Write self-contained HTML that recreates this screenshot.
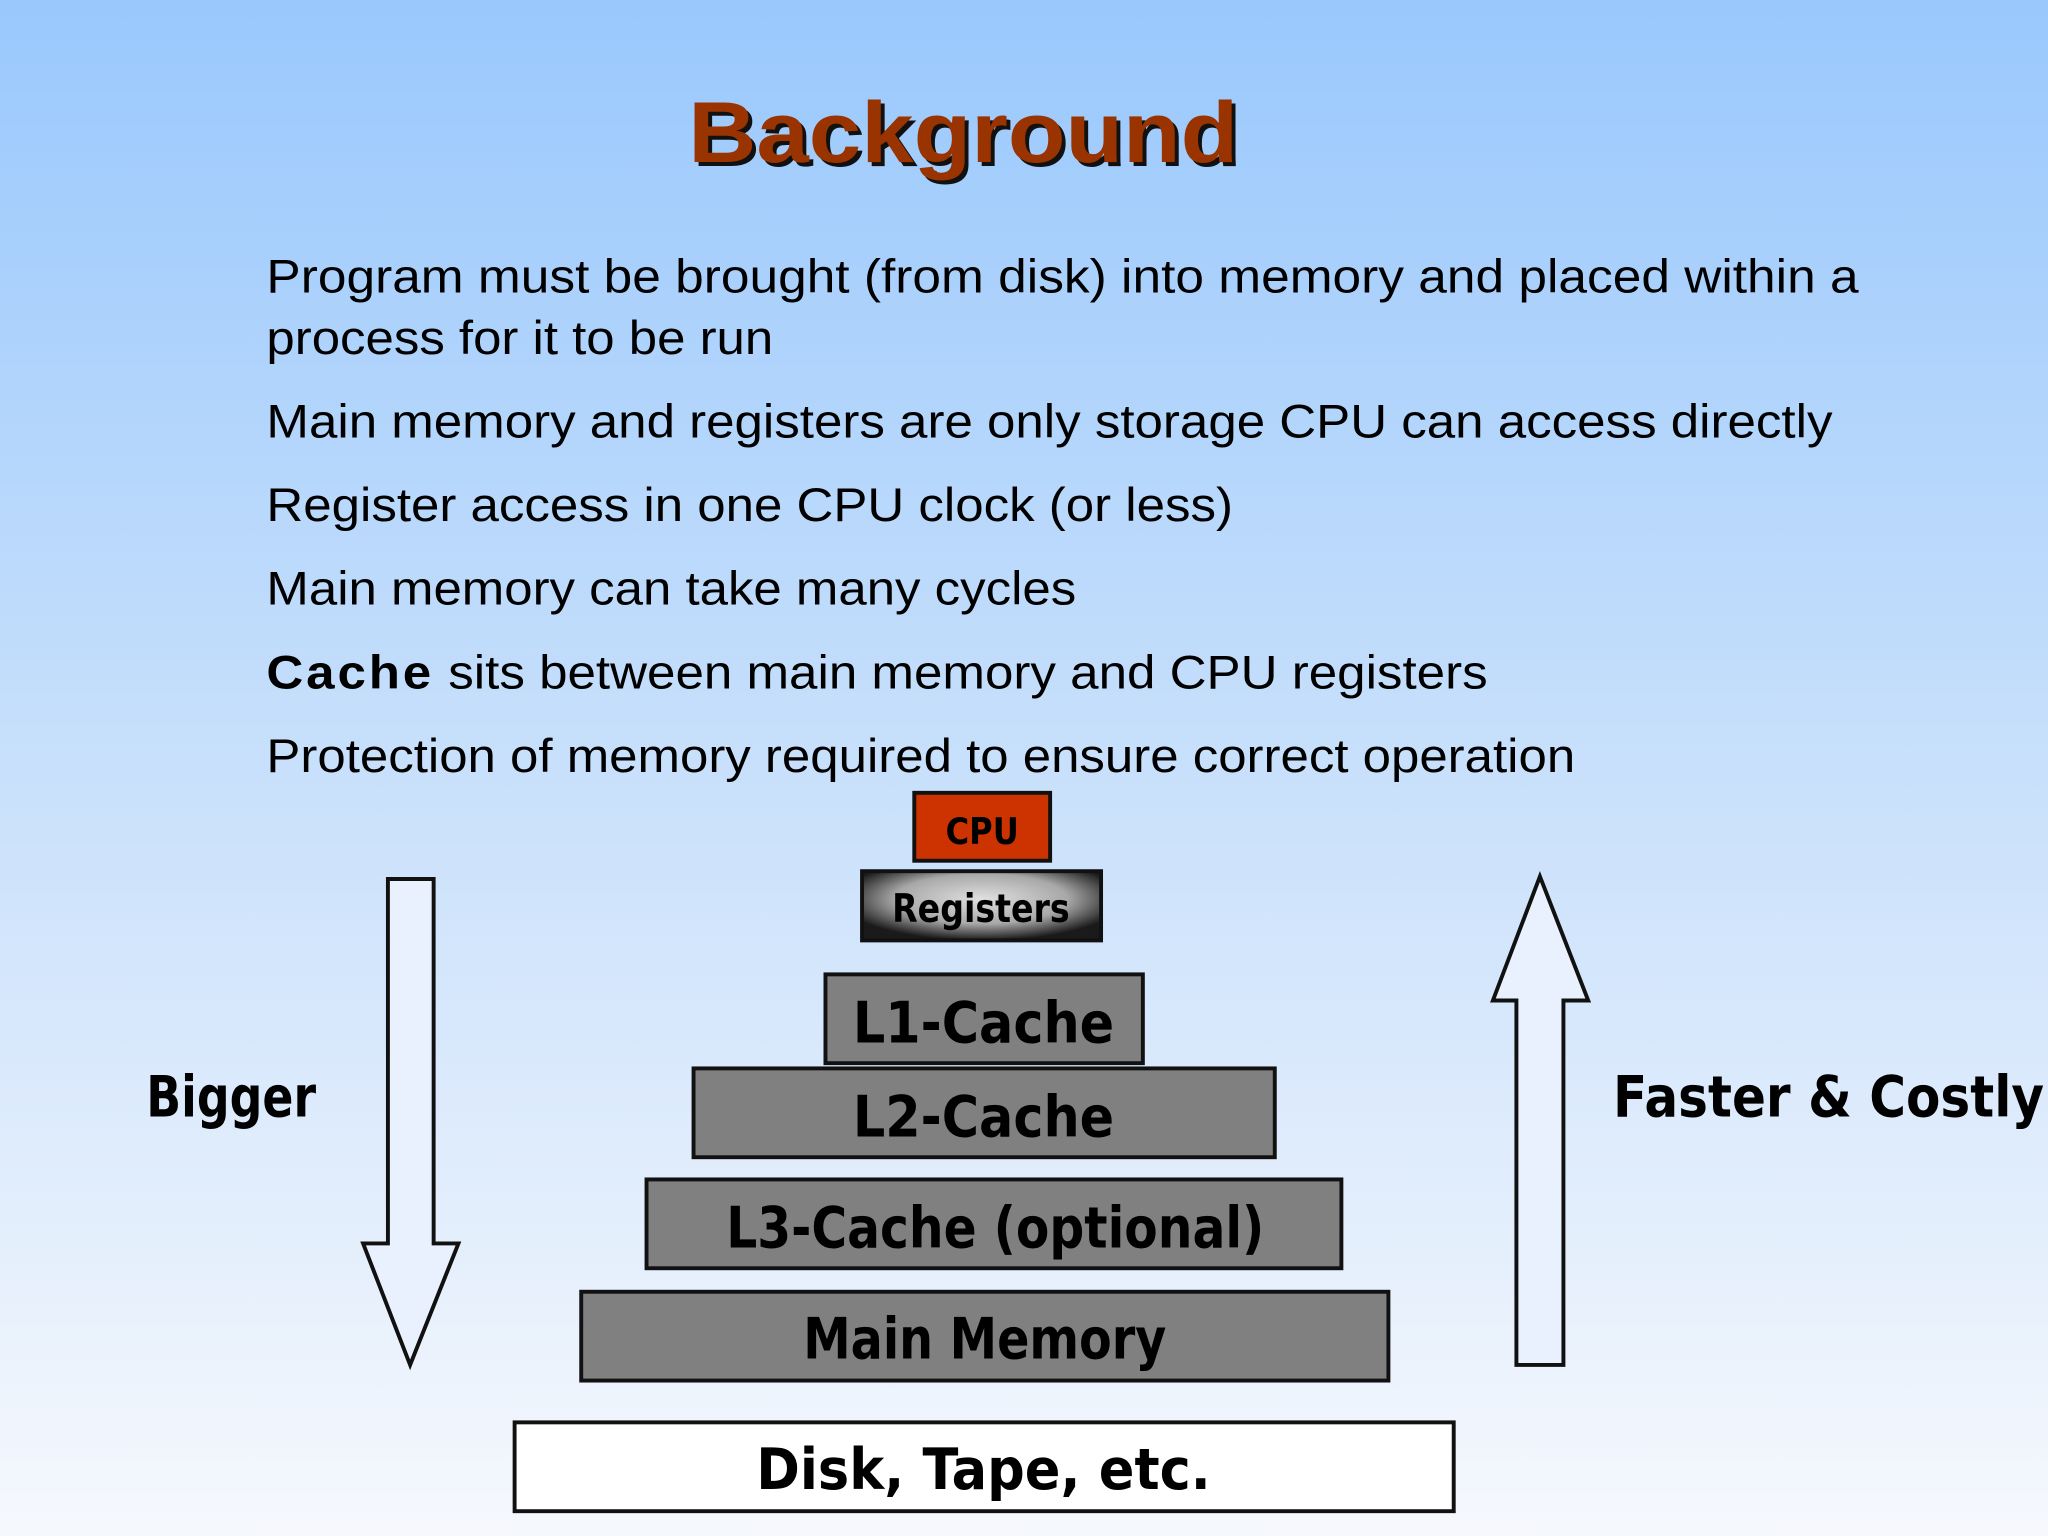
<!DOCTYPE html>
<html><head><meta charset="utf-8"><style>
html,body{margin:0;padding:0;width:2048px;height:1536px;overflow:hidden}
svg{display:block}
</style></head><body>
<svg width="2048" height="1536" viewBox="0 0 1568 1176" xmlns="http://www.w3.org/2000/svg">
<defs>
<linearGradient id="bg" x1="0" y1="0" x2="0" y2="1">
<stop offset="0" stop-color="#99c8fd"/><stop offset="0.5" stop-color="#c8e0fb"/><stop offset="1" stop-color="#f6f8fd"/>
</linearGradient>
<radialGradient id="rg" cx="0.5" cy="0.4" r="0.6">
<stop offset="0" stop-color="#e0e0e0"/><stop offset="0.6" stop-color="#a8a8a8"/><stop offset="1" stop-color="#1a1a1a"/>
</radialGradient>
</defs>
<rect width="1568" height="1176" fill="url(#bg)"/>
<text x="530" y="127" font-family="Liberation Sans, sans-serif" font-weight="bold" font-size="66" fill="#111" textLength="421" lengthAdjust="spacingAndGlyphs">Background</text>
<text x="527" y="124" font-family="Liberation Sans, sans-serif" font-weight="bold" font-size="66" fill="#993300" textLength="421" lengthAdjust="spacingAndGlyphs">Background</text>
<g font-family="Liberation Sans, Arial, sans-serif" font-size="36" fill="#000">
<text x="204" y="224" textLength="1219" lengthAdjust="spacingAndGlyphs">Program must be brought (from disk)  into memory and placed within a</text>
<text x="204" y="271" textLength="388" lengthAdjust="spacingAndGlyphs">process for it to be run</text>
<text x="204" y="335" textLength="1199" lengthAdjust="spacingAndGlyphs">Main memory and registers are only storage CPU can access directly</text>
<text x="204" y="399" textLength="740" lengthAdjust="spacingAndGlyphs">Register access in one CPU clock (or less)</text>
<text x="204" y="463" textLength="620" lengthAdjust="spacingAndGlyphs">Main memory can take many cycles</text>
<text x="204" y="527" textLength="935" lengthAdjust="spacingAndGlyphs"><tspan font-weight="bold" letter-spacing="2">Cache</tspan> sits between main memory and CPU registers</text>
<text x="204" y="591" textLength="1002" lengthAdjust="spacingAndGlyphs">Protection of memory required to ensure correct operation</text>
</g>

<rect x="700" y="607" width="104" height="52" fill="#cc3300" stroke="#111" stroke-width="3"/>
<rect x="660" y="667" width="183" height="53" fill="url(#rg)" stroke="#111" stroke-width="3"/>

<g fill="#808080" stroke="#111" stroke-width="3">
<rect x="632" y="746" width="243" height="68"/>
<rect x="531" y="818" width="445" height="68"/>
<rect x="495" y="903" width="532" height="68"/>
<rect x="445" y="989" width="618" height="68"/>
</g>
<rect x="394" y="1089" width="719" height="68" fill="#fff" stroke="#111" stroke-width="3"/>
<g font-family="DejaVu Sans, sans-serif" font-weight="bold" fill="#000">
<text x="724" y="646" font-size="28" textLength="56" lengthAdjust="spacingAndGlyphs">CPU</text>
<text x="683" y="706" font-size="30" textLength="136" lengthAdjust="spacingAndGlyphs">Registers</text>
<text x="653" y="798" font-size="44" textLength="200" lengthAdjust="spacingAndGlyphs">L1-Cache</text>
<text x="653" y="870" font-size="44" textLength="200" lengthAdjust="spacingAndGlyphs">L2-Cache</text>
<text x="556" y="955" font-size="44" textLength="412" lengthAdjust="spacingAndGlyphs">L3-Cache (optional)</text>
<text x="615" y="1040" font-size="44" textLength="278" lengthAdjust="spacingAndGlyphs">Main Memory</text>
<text x="579" y="1140" font-size="44" textLength="348" lengthAdjust="spacingAndGlyphs">Disk, Tape, etc.</text>
<text x="112" y="855" font-size="44" textLength="130" lengthAdjust="spacingAndGlyphs">Bigger</text>
<text x="1235" y="855" font-size="44" textLength="330" lengthAdjust="spacingAndGlyphs">Faster &amp; Costly</text>
</g>

<polygon points="297,673 332,673 332,952 351,952 314,1045 278,952 297,952" fill="#e8f1fd" stroke="#111" stroke-width="3"/>
<polygon points="1179,671 1216,766 1197,766 1197,1045 1161,1045 1161,766 1143,766" fill="#e8f1fd" stroke="#111" stroke-width="3"/>
</svg>
</body></html>
